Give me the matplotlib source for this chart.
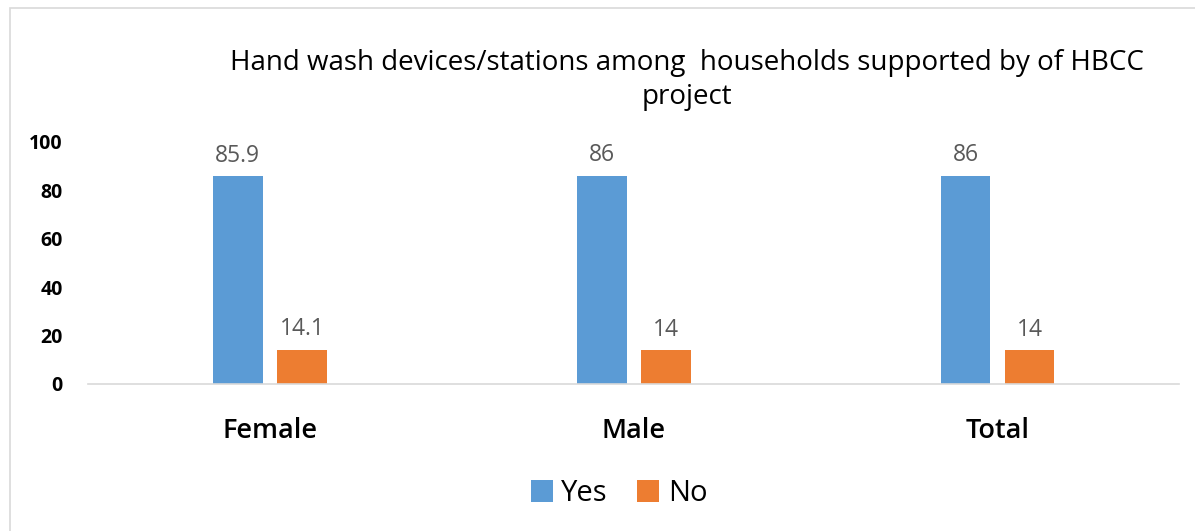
"""Bar chart of hand wash device availability among HBCC-supported households."""

import numpy as np
import matplotlib.pyplot as plt
from matplotlib.patches import Rectangle

plt.rcParams['font.family'] = ['Open Sans', 'DejaVu Sans']

categories = ["Female", "Male", "Total"]
yes_values = [85.9, 86, 86]
no_values = [14.1, 14, 14]
yes_labels = ["85.9", "86", "86"]
no_labels = ["14.1", "14", "14"]

fig = plt.figure(figsize=(11.95, 5.31), dpi=100)
ax = fig.add_axes([0.0736, 0.277, 0.9134, 0.456])

x = np.arange(len(categories))
width = 0.137
offset = 0.088
bars_yes = ax.bar(x - offset, yes_values, width, color='#5B9BD5', label='Yes')
bars_no = ax.bar(x + offset, no_values, width, color='#ED7D31', label='No')

for bars, labels in ((bars_yes, yes_labels), (bars_no, no_labels)):
    for bar, lab in zip(bars, labels):
        ax.annotate(lab, xy=(bar.get_x() + bar.get_width() / 2, bar.get_height()),
                    xytext=(0, 6), textcoords='offset points',
                    ha='center', va='bottom', fontsize=16.5, color='#595959')

ax.set_xlim(-0.5, 2.5)
ax.set_ylim(0, 100)
ax.set_yticks(range(0, 101, 20))
ax.set_xticks(x)
ax.set_xticklabels(categories, fontsize=19.5, fontweight='semibold')
ax.tick_params(axis='y', length=0, labelsize=14, pad=18)
ax.tick_params(axis='x', length=0, pad=24)
for t in ax.get_yticklabels():
    t.set_fontweight('bold')

for side in ('top', 'right', 'left'):
    ax.spines[side].set_visible(False)
ax.spines['bottom'].set_color('#D9D9D9')
ax.spines['bottom'].set_linewidth(1.2)

fig.text(0.575, 0.85, "Hand wash devices/stations among  households supported by of HBCC\nproject",
         ha='center', va='center', fontsize=20, color='#000000', linespacing=1.3)

fig.legend(handles=[bars_yes, bars_no], loc='center', bbox_to_anchor=(0.518, 0.07),
           ncol=2, frameon=False, fontsize=21, handlelength=0.75, handleheight=0.75,
           handletextpad=0.3, columnspacing=1.0)

# light outer frame
fig.add_artist(Rectangle((0.008, -0.01), 1.1, 0.995, transform=fig.transFigure,
                         fill=False, edgecolor='#D9D9D9', linewidth=1.2))

fig.savefig("out.png", dpi=100)
